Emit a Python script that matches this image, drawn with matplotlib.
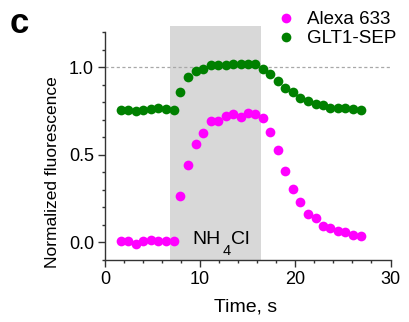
import matplotlib
matplotlib.use("Agg")
import matplotlib.pyplot as plt
from matplotlib.patches import Rectangle

plt.rcParams['font.family'] = ['Liberation Sans', 'DejaVu Sans']

# Data
time_s = [1.65, 2.45, 3.22, 4.03, 4.80, 5.61, 6.41, 7.22, 7.92, 8.73, 9.53,
          10.34, 11.11, 11.88, 12.69, 13.46, 14.26, 15.04, 15.81, 16.58,
          17.38, 18.19, 18.96, 19.73, 20.54, 21.31, 22.12, 22.89, 23.69,
          24.47, 25.27, 26.04, 26.88]
alexa633 = [0.006, 0.006, -0.007, 0.010, 0.012, 0.010, 0.006, 0.006,
            0.265, 0.443, 0.563, 0.625, 0.693, 0.693, 0.722, 0.735, 0.716,
            0.741, 0.731, 0.712, 0.629, 0.530, 0.406, 0.307, 0.233, 0.163,
            0.138, 0.095, 0.085, 0.066, 0.057, 0.044, 0.034]
glt1_sep = [0.758, 0.758, 0.750, 0.758, 0.763, 0.767, 0.761, 0.758,
            0.856, 0.943, 0.976, 0.991, 1.013, 1.013, 1.013, 1.019, 1.019,
            1.019, 1.019, 0.989, 0.962, 0.919, 0.881, 0.858, 0.826, 0.807,
            0.788, 0.781, 0.769, 0.765, 0.765, 0.761, 0.754]
series_names = ["Alexa 633", "GLT1-SEP"]
nh4cl_window = [6.85, 16.4]
x_ticks = [0, 10, 20, 30]
y_ticks = [0.0, 0.5, 1.0]

W, H = 409, 322
fig = plt.figure(figsize=(W / 100, H / 100), dpi=100)
ax = fig.add_axes([105 / W, (H - 260) / H, (390.5 - 105) / W, (260 - 32) / H])

ax.set_xlim(0, 30)
ax.set_ylim(-0.1, 1.2)

# NH4Cl shaded window (extends slightly above the axes top)
ax.add_patch(Rectangle((nh4cl_window[0], -0.1), nh4cl_window[1] - nh4cl_window[0],
                       1.335, facecolor='#d8d8d8', edgecolor='none',
                       zorder=0, clip_on=False))
ax.axhline(1.0, color='#a8a8a8', lw=0.9, ls=(0, (2.5, 2)), zorder=1)

ax.plot(time_s, alexa633, 'o', color='#ff00ff', ms=7, mew=0,
        label=series_names[0], zorder=3)
ax.plot(time_s, glt1_sep, 'o', color='#008000', ms=7, mew=0,
        label=series_names[1], zorder=3)

ax.text(9.18, -0.007, 'NH', fontsize=14, ha='left', va='baseline')
ax.text(12.8, -0.07, '4', fontsize=10.5, ha='center', va='baseline')
ax.text(13.25, -0.007, 'Cl', fontsize=14, ha='left', va='baseline')

for s in ['top', 'right']:
    ax.spines[s].set_visible(False)
for s in ['left', 'bottom']:
    ax.spines[s].set_color('#333333')
    ax.spines[s].set_linewidth(1.0)

ax.set_xticks(x_ticks)
ax.set_xticks([v for v in range(0, 31, 2) if v % 10], minor=True)
ax.set_yticks(y_ticks)
ax.set_yticklabels(['0.0', '0.5', '1.0'])
ax.set_yticks([round(-0.1 + 0.1 * i, 1) for i in range(14) if i % 5 != 1], minor=True)
ax.tick_params(which='major', length=5, width=1, color='#333333',
               labelsize=13, pad=3)
ax.tick_params(which='minor', length=2.5, width=1, color='#333333')

ax.set_xlabel('Time, s', fontsize=14)
ax.set_ylabel('Normalized fluorescence', fontsize=12.5)
ax.xaxis.set_label_coords(246 / W, 1 - 299 / H, transform=fig.transFigure)
ax.yaxis.set_label_coords(60 / W, 1 - 172 / H, transform=fig.transFigure)

ax.legend(loc='upper left', bbox_to_anchor=(277 / W, 1 - 11 / H),
          bbox_transform=fig.transFigure, frameon=False, fontsize=13.5,
          handlelength=1.0, handletextpad=0.6, labelspacing=0.1,
          borderpad=0, borderaxespad=0, markerscale=1.0)

fig.text(10 / W, 1 - 33 / H, 'c', fontsize=25, fontweight='bold',
         ha='left', va='baseline')

fig.savefig('out.png', dpi=100)
